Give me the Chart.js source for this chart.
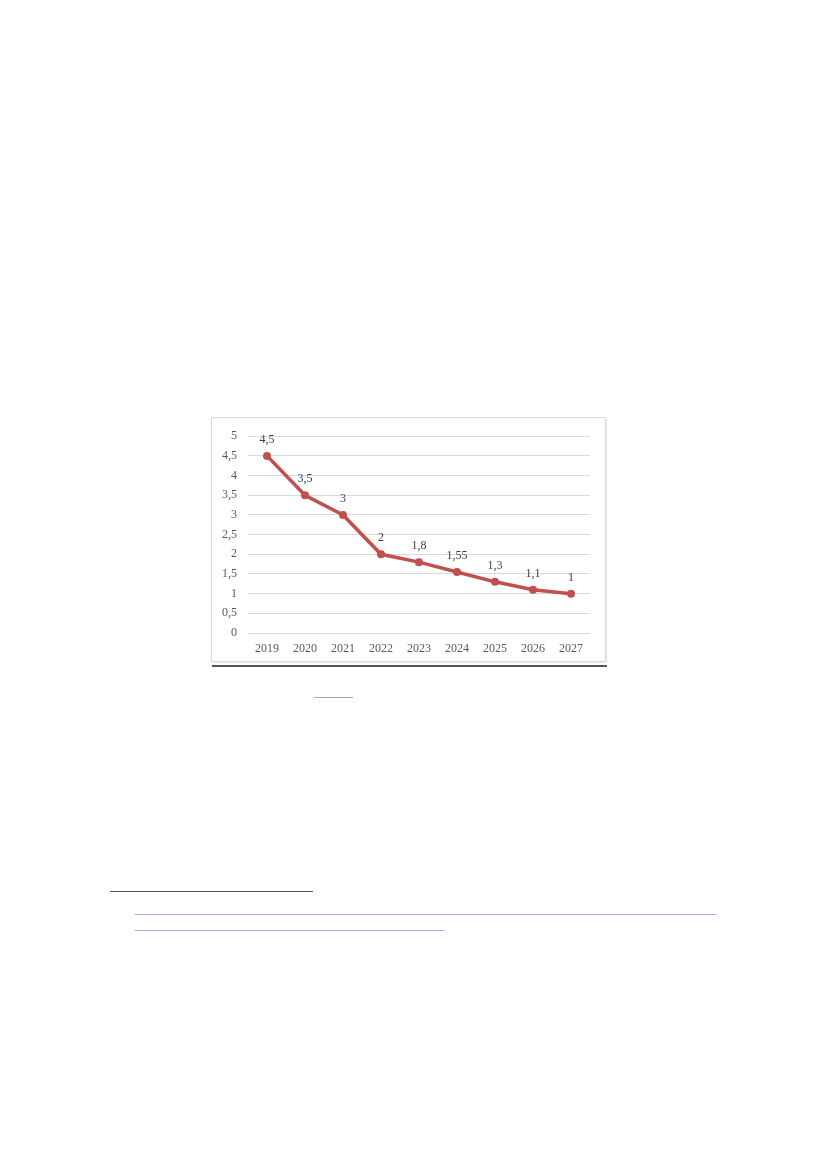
<!DOCTYPE html>
<html>
<head>
<meta charset="utf-8">
<script src="https://cdn.jsdelivr.net/npm/chart.js@4/dist/chart.umd.min.js"></script>
<style>
  body { margin: 0; background: #fff; width: 827px; height: 1169px; position: relative; }
  #marco { position: absolute; left: 211px; top: 417px; width: 393px; height: 243px;
           border: 1px solid #d9d9d9; box-shadow: 1px 1px 1px #eee; }
  #grafico { position: absolute; left: 0; top: 0; }
  .linea { position: absolute; height: 1px; }
</style>
</head>
<body>
<div id="marco"><canvas id="grafico" width="393" height="243"></canvas></div>
<div class="linea" style="left:212px;top:665px;width:395px;height:2px;background:#555"></div>
<div class="linea" style="left:314px;top:697px;width:39px;background:#aaa"></div>
<div class="linea" style="left:110px;top:891px;width:203px;background:#555"></div>
<div class="linea" style="left:135px;top:914px;width:581px;background:#a8a8f0"></div>
<div class="linea" style="left:135px;top:930px;width:309px;background:#a8a8f0"></div>
<script>
var anios = ['2019', '2020', '2021', '2022', '2023', '2024', '2025', '2026', '2027'];
var valores = [4.5, 3.5, 3, 2, 1.8, 1.55, 1.3, 1.1, 1];
var etiquetas = ['4,5', '3,5', '3', '2', '1,8', '1,55', '1,3', '1,1', '1'];

// etiquetas encima de cada punto
const rotulos = {
    id: 'rotulos',
    afterDatasetsDraw(chart) {
        const c = chart.ctx;
        const meta = chart.getDatasetMeta(0);
        c.save();
        c.font = '12px "Liberation Serif"';
        c.fillStyle = '#404040';
        c.textAlign = 'center';
        c.textBaseline = 'middle';
        meta.data.forEach((p, i) => {
            c.fillText(etiquetas[i], p.x, p.y - 16);
        });
        c.restore();
    }
};

const ctx = document.getElementById('grafico').getContext('2d');
const grafico = new Chart(ctx, {
    type: 'line',
    data: {
        labels: anios,
        datasets: [{
            data: valores,
            borderColor: '#c0504d',
            backgroundColor: '#c0504d',
            borderWidth: 3.5,
            pointRadius: 4,
            pointBorderWidth: 0,
            tension: 0
        }]
    },
    options: {
        responsive: false,
        animation: false,
        layout: { padding: { top: 14, right: 15, left: 0, bottom: 0 } },
        plugins: { legend: { display: false }, tooltip: { enabled: false } },
        scales: {
            x: {
                offset: true,
                grid: { display: false, drawTicks: false },
                border: { display: false },
                ticks: { color: '#595959', font: { family: 'Liberation Serif', size: 12 }, padding: 9, maxRotation: 0 },
                afterFit: (s) => { s.height = 28; }
            },
            y: {
                min: 0,
                max: 5,
                grid: { color: '#d9d9d9', drawTicks: false },
                border: { display: false },
                ticks: {
                    stepSize: 0.5,
                    color: '#595959',
                    font: { family: 'Liberation Serif', size: 12 },
                    padding: 11,
                    callback: (v) => String(v).replace('.', ',')
                },
                afterFit: (s) => { s.width = 36; }
            }
        }
    },
    plugins: [rotulos]
});
</script>
</body>
</html>
